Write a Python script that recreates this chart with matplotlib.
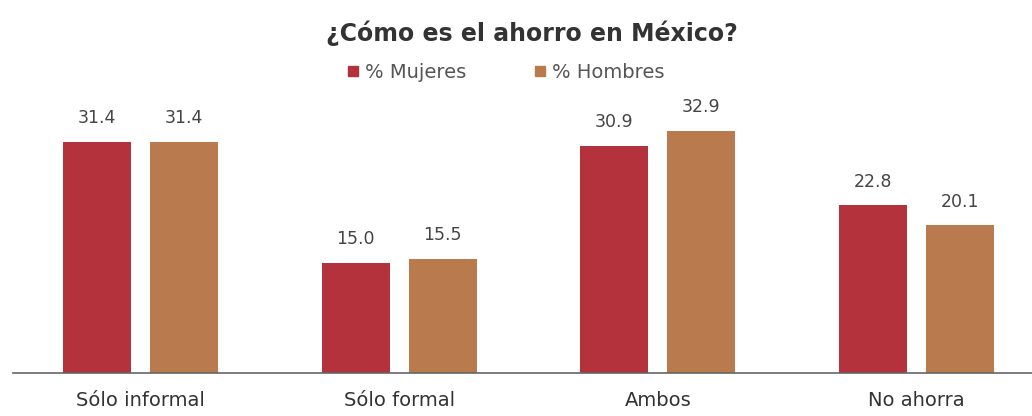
import numpy as np
import matplotlib.pyplot as plt
from matplotlib.lines import Line2D

categorias = ['Sólo informal', 'Sólo formal', 'Ambos', 'No ahorra']
mujeres = [31.4, 15.0, 30.9, 22.8]
hombres = [31.4, 15.5, 32.9, 20.1]
series = ['% Mujeres', '% Hombres']
colores = ['#b3323b', '#b97a4e']

plt.rcParams['font.family'] = ['DejaVu Sans']

fig = plt.figure(figsize=(10.32, 4.16), dpi=100)
ax = fig.add_axes([13 / 1032, 43 / 416, 1019 / 1032, 273 / 416])

x = np.arange(len(categorias))
ancho = 0.263
desp = 0.168

for vals, col, dx in [(mujeres, colores[0], -desp), (hombres, colores[1], desp)]:
    barras = ax.bar(x + dx, vals, width=ancho, color=col)
    for b, v in zip(barras, vals):
        ax.text(b.get_x() + b.get_width() / 2, v + 2.0, f'{v:.1f}',
                ha='center', va='bottom', fontsize=12.5, color='#454545')

ax.set_xlim(-0.492, 3.446)
ax.set_ylim(0, 37.14)
ax.set_xticks(x)
ax.set_xticklabels(categorias, fontsize=14, color='#333333')
ax.tick_params(axis='x', length=0, pad=13)
ax.set_yticks([])
for lado in ['top', 'right', 'left']:
    ax.spines[lado].set_visible(False)
ax.spines['bottom'].set_color('#666666')
ax.spines['bottom'].set_linewidth(1.2)

fig.text(532 / 1032, 1 - 33 / 416, '¿Cómo es el ahorro en México?',
         ha='center', va='center', fontsize=17, fontweight='bold', color='#333333')

handles = [Line2D([], [], marker='s', linestyle='none', markersize=7,
                  markerfacecolor=c, markeredgecolor=c) for c in colores]
fig.legend(handles, series, loc='center', bbox_to_anchor=(503 / 1032, 1 - 72 / 416),
           ncol=2, frameon=False, fontsize=14, handletextpad=0.0,
           handlelength=1.2, columnspacing=3.2, labelcolor='#555555')

fig.savefig('out.png', dpi=100)
